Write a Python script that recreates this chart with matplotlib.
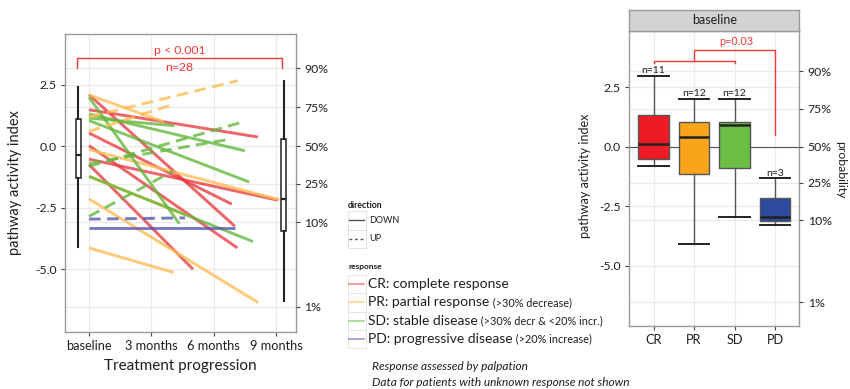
import numpy as np
import matplotlib
matplotlib.use("Agg")
import matplotlib.pyplot as plt
from matplotlib.patches import Rectangle

plt.rcParams['font.family'] = ['Lato', 'DejaVu Sans']

# ---------------- data ----------------
time_labels = ["baseline", "3 months", "6 months", "9 months"]
time_pos = [0, 1, 2, 3]
y_major = [2.5, 0.0, -2.5, -5.0]
y_major_labels = ["2.5", "0.0", "-2.5", "-5.0"]
prob_labels = ["90%", "75%", "50%", "25%", "10%", "1%"]
prob_pos = [3.18, 1.60, 0.0, -1.52, -3.09, -6.53]

# trajectories: start value at baseline, end time (3-month units), end value
cr_down_start = [2.10, 1.49, 0.54, 0.03, -0.52, -0.74]
cr_down_end_t = [2.34, 2.71, 2.29, 2.38, 3.03, 1.67]
cr_down_end = [-3.25, 0.38, -2.35, -4.13, -2.19, -5.00]
pr_down_start = [2.09, -0.13, -2.14, -4.13, -1.22]
pr_down_end_t = [1.20, 3.05, 2.71, 1.36, 1.56]
pr_down_end = [1.00, -2.17, -6.35, -5.13, -2.80]
pr_up_start = [0.61, 1.20]
pr_up_end_t = [1.32, 2.39]
pr_up_end = [1.68, 2.67]
sd_down_start = [2.00, 1.32, 1.15, 1.05, -1.22]
sd_down_end_t = [1.45, 2.50, 1.37, 2.57, 2.63]
sd_down_end = [-3.15, -0.18, 0.84, -1.45, -3.87]
sd_up_start = [-0.81, -0.70, -2.85]
sd_up_end_t = [2.50, 2.21, 1.35]
sd_up_end = [1.02, 0.27, -1.00]
pd_down_start = [-3.32]
pd_down_end_t = [2.34]
pd_down_end = [-3.32]
pd_up_start = [-2.96]
pd_up_end_t = [1.54]
pd_up_end = [-2.91]

# left marginal boxplots (baseline / 9 months)
lbox_pos = [-0.17, 3.12]
lbox_whislo = [-4.10, -6.30]
lbox_q1 = [-1.30, -3.45]
lbox_med = [-0.35, -2.15]
lbox_q3 = [1.10, 0.30]
lbox_whishi = [2.40, 2.65]

# right panel boxplots (baseline by response)
resp = ["CR", "PR", "SD", "PD"]
r_whislo = [-0.80, -4.10, -2.96, -3.29]
r_q1 = [-0.53, -1.15, -0.88, -3.11]
r_med = [0.11, 0.42, 0.91, -2.94]
r_q3 = [1.32, 1.04, 1.05, -2.17]
r_whishi = [2.99, 2.01, 2.00, -1.33]
r_n = [11, 12, 12, 3]

legend_resp = ["CR: complete response", "PR: partial response",
               "SD: stable disease", "PD: progressive disease"]
legend_resp_sub = ["", "(>30% decrease)", "(>30% decr & <20% incr.)", "(>20% increase)"]

# ---------------- style ----------------
line_cols = {"CR": "#E8393F", "PR": "#FFBB50", "SD": "#62B63A", "PD": "#5555B0"}
box_cols = ["#ED1C24", "#F8A51B", "#6CBE45", "#2E4A9F"]
red = "#F03A3A"
grid_c = "#ebebeb"
spine_c = "#9a9a9a"
txt_c = "#1e1e1e"

W, H = 850, 389
fig = plt.figure(figsize=(8.5, 3.89), dpi=100)


def fax(x0, y0, x1, y1, **kw):
    return fig.add_axes([x0 / W, 1 - y1 / H, (x1 - x0) / W, (y1 - y0) / H], **kw)


# overlay axes in pixel coordinates for labels / legend
lax = fax(0, 0, W, H)
lax.set_xlim(0, W)
lax.set_ylim(H, 0)
lax.axis("off")

# ---------------- left panel ----------------
ax = fax(65, 34, 296, 332)
ax.set_xlim(-0.385, 3.32)
ax.set_ylim(-7.55, 4.57)
ax.set_xticks(time_pos, time_labels, fontsize=9.2, color=txt_c)
ax.set_yticks(y_major, y_major_labels, fontsize=8.8, color=txt_c)
ax.tick_params(axis="both", length=3, color="#444", width=0.8, pad=3)
for s in ax.spines.values():
    s.set_color(spine_c)
    s.set_linewidth(1.0)
for t in time_pos:
    ax.axvline(t, color=grid_c, lw=0.9, zorder=0)
for p in prob_pos + y_major:
    ax.axhline(p, color=grid_c, lw=0.9, zorder=0)

groups = [
    ("CR", "-", cr_down_start, cr_down_end_t, cr_down_end),
    ("PR", "-", pr_down_start, pr_down_end_t, pr_down_end),
    ("SD", "-", sd_down_start, sd_down_end_t, sd_down_end),
    ("PD", "-", pd_down_start, pd_down_end_t, pd_down_end),
    ("PR", "--", pr_up_start, pr_up_end_t, pr_up_end),
    ("SD", "--", sd_up_start, sd_up_end_t, sd_up_end),
    ("PD", "--", pd_up_start, pd_up_end_t, pd_up_end),
]
for key, ls, st, et, ev in groups:
    for s0, t1, v1 in zip(st, et, ev):
        style = "-" if ls == "-" else (0, (4, 2.2))
        ax.plot([0, t1], [s0, v1], color=line_cols[key], lw=2.1, alpha=0.78,
                linestyle=style, solid_capstyle="butt", zorder=2)

lstats = [dict(whislo=a, q1=b, med=c, q3=d, whishi=e)
          for a, b, c, d, e in zip(lbox_whislo, lbox_q1, lbox_med, lbox_q3, lbox_whishi)]
ax.bxp(lstats, positions=lbox_pos, widths=0.085, showfliers=False, showcaps=False,
       patch_artist=True, manage_ticks=False,
       boxprops=dict(facecolor="white", edgecolor="#222", lw=1.1),
       medianprops=dict(color="#222", lw=1.6),
       whiskerprops=dict(color="#222", lw=1.5), zorder=3)

# significance bracket
ax.plot([-0.19, -0.19, 3.10, 3.10], [3.19, 3.585, 3.585, 3.19], color=red, lw=1.0,
        clip_on=False, zorder=4)
ax.text(1.45, 3.9, "p < 0.001", color=red, fontsize=8.8, ha="center", va="center")
ax.text(1.45, 3.21, "n=28", color=red, fontsize=8.8, ha="center", va="center")

ax2 = ax.twinx()
ax2.set_ylim(ax.get_ylim())
ax2.set_yticks(prob_pos, prob_labels, fontsize=8.8, color=txt_c)
ax2.tick_params(axis="y", length=3, color="#444", width=0.8, pad=3)
for s in ax2.spines.values():
    s.set_visible(False)

lax.text(15, 183, "pathway activity index", rotation=90, fontsize=10.5,
         ha="center", va="center", color=txt_c)
lax.text(180, 366, "Treatment progression", fontsize=11, ha="center", va="center",
         color=txt_c)

# ---------------- legends ----------------
lax.text(347.5, 205, "direction", fontsize=6.3, fontweight="bold", ha="left",
         va="center", color=txt_c)
for i, (lab, ls) in enumerate([("DOWN", "-"), ("UP", (0, (2, 2)))]):
    y0 = 211 + i * 18.6
    lax.add_patch(Rectangle((347.7, y0), 18.3, 18.6, facecolor="white",
                            edgecolor="#dddddd", lw=0.6))
    yc = y0 + 9.3
    lax.plot([349.5, 364.5], [yc, yc], color="#555", lw=1.0, linestyle=ls)
    lax.text(369, yc, lab, fontsize=6.5, ha="left", va="center", color=txt_c)

lax.text(349, 266, "response", fontsize=6.0, fontweight="bold", ha="left",
         va="center", color=txt_c)
for i, (lab, sub, key) in enumerate(zip(legend_resp, legend_resp_sub, ["CR", "PR", "SD", "PD"])):
    y0 = 275 + i * 18.3
    lax.add_patch(Rectangle((347.7, y0), 18.3, 18.3, facecolor="white",
                            edgecolor="#e2e2e2", lw=0.6))
    yc = y0 + 9.15
    lax.plot([349.5, 364.5], [yc, yc], color=line_cols[key], lw=1.2, alpha=0.6)
    t1 = lax.text(368.5, yc, lab, fontsize=10, ha="left", va="center", color=txt_c)
    if sub:
        lax.annotate(" " + sub, xy=(1, 0.5), xycoords=t1, fontsize=7.8,
                     ha="left", va="center", color=txt_c)

lax.text(372.5, 366, "Response assessed by palpation", fontsize=8.6, style="italic",
         ha="left", va="center", color=txt_c)
lax.text(372.5, 383, "Data for patients with unknown response not shown", fontsize=8.6,
         style="italic", ha="left", va="center", color=txt_c)

# ---------------- right panel ----------------
rx = fax(629.3, 30.7, 799.3, 326)
rx.set_xlim(0.4, 4.6)
rx.set_ylim(-7.53, 4.88)
rpos = [1, 2, 3, 4]
rx.set_xticks(rpos, resp, fontsize=9.2, color=txt_c)
rx.set_yticks(y_major, y_major_labels, fontsize=8.8, color=txt_c)
rx.tick_params(axis="both", length=3, color="#444", width=0.8, pad=3)
for s in rx.spines.values():
    s.set_color(spine_c)
    s.set_linewidth(1.0)
for t in rpos:
    rx.axvline(t, color=grid_c, lw=0.9, zorder=0)
for p in prob_pos + y_major:
    rx.axhline(p, color=grid_c, lw=0.9, zorder=0)
rx.axhline(0, color="#555", lw=0.8, zorder=1)

rstats = [dict(whislo=a, q1=b, med=c, q3=d, whishi=e)
          for a, b, c, d, e in zip(r_whislo, r_q1, r_med, r_q3, r_whishi)]
bp = rx.bxp(rstats, positions=rpos, widths=0.75, capwidths=0.75, showfliers=False,
            patch_artist=True, manage_ticks=False,
            boxprops=dict(edgecolor="#555", lw=1.0),
            medianprops=dict(color="#222", lw=1.8),
            whiskerprops=dict(color="#555", lw=1.0),
            capprops=dict(color="#222", lw=1.4), zorder=2)
for patch, c in zip(bp["boxes"], box_cols):
    patch.set_facecolor(c)

for x, top, n in zip(rpos, r_whishi, r_n):
    rx.text(x, top + 0.04, f"n={n}", fontsize=7.5, ha="center", va="bottom", color=txt_c)

rx.plot([1, 1, 3, 3], [3.51, 3.60, 3.60, 3.51], color=red, lw=1.0, clip_on=False, zorder=4)
rx.plot([2, 2, 4, 4], [3.60, 4.06, 4.06, 0.49], color=red, lw=1.0, clip_on=False, zorder=4)
rx.text(3.05, 4.42, "p=0.03", color=red, fontsize=7.8, ha="center", va="center")

rx2 = rx.twinx()
rx2.set_ylim(rx.get_ylim())
rx2.set_yticks(prob_pos, prob_labels, fontsize=8.8, color=txt_c)
rx2.tick_params(axis="y", length=3, color="#444", width=0.8, pad=3)
for s in rx2.spines.values():
    s.set_visible(False)

# facet strip
sax = fax(629.3, 10, 799.3, 30.7)
sax.set_facecolor("#d3d3d3")
sax.set_xticks([])
sax.set_yticks([])
for s in sax.spines.values():
    s.set_color(spine_c)
    s.set_linewidth(1.0)
sax.text(0.5, 0.5, "baseline", fontsize=9, ha="center", va="center",
         color=txt_c, transform=sax.transAxes)

lax.text(585, 176, "pathway activity index", rotation=90, fontsize=9,
         ha="center", va="center", color=txt_c)
lax.text(841, 170, "probability", rotation=270, fontsize=8.8,
         ha="center", va="center", color=txt_c)

fig.savefig("out.png", dpi=100)
